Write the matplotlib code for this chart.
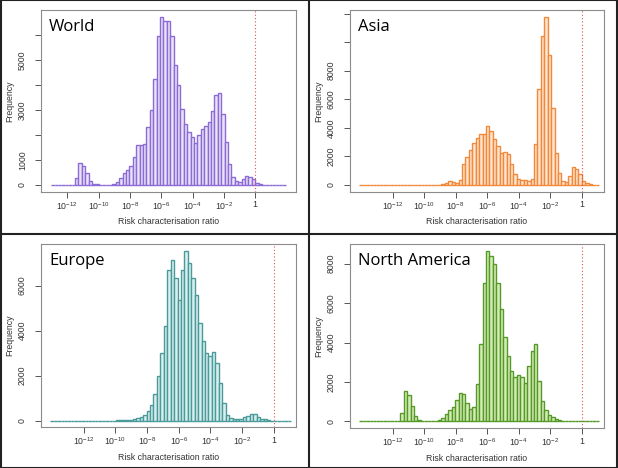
import numpy as np
import matplotlib
matplotlib.use("Agg")
import matplotlib.pyplot as plt
from matplotlib.lines import Line2D
from matplotlib.ticker import NullLocator

plt.rcParams["font.family"] = ["Liberation Sans", "DejaVu Sans"]
plt.rcParams["mathtext.fontset"] = "custom"
plt.rcParams["mathtext.rm"] = "Liberation Sans"
plt.rcParams["mathtext.it"] = "Liberation Sans:italic"

# histogram bins: width 0.5 in natural-log units
BIN_W = 0.5

world_start = -30.0
world_counts = [0] * 7 + [265, 890, 770, 465, 150, 55, 20] + [0] * 4 + [
    30, 130, 265, 464, 597, 756, 1127, 1590, 1590, 1650, 2320, 2983, 4243,
    5967, 6720, 6530, 6530, 5967, 4774, 3978, 3050, 2420, 2120, 1920, 1658,
    1990, 2254, 2370, 2500, 2957, 3580, 3680, 2824, 1724, 835, 332, 160, 133,
    225, 371, 332, 225, 93, 40] + [0] * 7

asia_start = -32.5
asia_counts = [0] * 24 + [
    40, 150, 280, 220, 120, 350, 1457, 1940, 2470, 2940, 3306, 3584, 3584,
    4115, 3769, 3190, 2760, 2266, 2300, 2170, 1457, 800, 450, 360, 347, 280,
    416, 2890, 6728, 10420, 11780, 9100, 5360, 2266, 832, 300, 185, 601, 1290,
    1150, 740, 254, 116, 60] + [0] * 2

europe_start = -32.5
europe_counts = [0] * 18 + [
    0, 3, 6, 10, 15, 25, 45, 90, 148, 266, 414, 681, 1184, 1968, 3004, 4188,
    6704, 7148, 6334, 5372, 6704, 7548, 7000, 6334, 5594, 4336, 3522, 3004,
    2856, 3049, 2560, 1672, 784, 266, 118, 45, 45, 89, 148, 207, 296, 296, 178,
    89, 45, 15] + [0] * 6

namerica_start = -32.5
namerica_counts = [0] * 12 + [424, 1525, 1356, 763, 254, 85, 30] + [0] * 3 + [
    30, 100, 186, 356, 568, 738, 1076, 1458, 1373, 958, 610, 746, 1898, 3950,
    7000, 8645, 8400, 8000, 7000, 5678, 4288, 3305, 2576, 2237, 2339, 2254,
    1949, 2797, 3593, 3932, 2068, 1051, 593, 339, 220, 119, 51, 15] + [0] * 10

x_ticks = [1e-12, 1e-10, 1e-8, 1e-6, 1e-4, 1e-2, 1]
x_tick_labels = [r"$10^{-12}$", r"$10^{-10}$", r"$10^{-8}$", r"$10^{-6}$",
                 r"$10^{-4}$", r"$10^{-2}$", "1"]

W, H = 618, 468
fig = plt.figure(figsize=(W / 100, H / 100), dpi=100)


def add_axes_px(x0, y0, x1, y1):
    return fig.add_axes([x0 / W, 1 - y1 / H, (x1 - x0) / W, (y1 - y0) / H])


def draw_panel(ax, title, start, counts, edge, face, xlim, yticks, ylabels):
    edges = np.exp(start + BIN_W * np.arange(len(counts) + 1))
    ax.bar(edges[:-1], counts, width=np.diff(edges), align="edge",
           color=face, edgecolor=edge, linewidth=1.0)
    ax.set_xscale("log")
    ax.set_xlim(10 ** xlim[0], 10 ** xlim[1])
    top = max(counts)
    ax.set_ylim(-0.04 * top, 1.04 * top)
    ax.axvline(1, color="#d9534f", lw=0.8, ls=(0, (1, 2)))

    ax.set_xticks(x_ticks)
    ax.set_xticklabels(x_tick_labels)
    ax.xaxis.set_minor_locator(NullLocator())
    ax.set_yticks(yticks)
    ax.set_yticklabels(ylabels, rotation=90, va="center")
    ax.tick_params(length=4, width=0.7, color="#555555", labelcolor="#333333",
                   labelsize=6.3)
    ax.tick_params(axis="x", pad=2)
    ax.tick_params(axis="y", pad=6)
    for sp in ax.spines.values():
        sp.set_color("#8c8c8c")
        sp.set_linewidth(0.8)

    ax.set_xlabel("Risk characterisation ratio", fontsize=6.3, color="#333333")
    ax.set_ylabel("Frequency", fontsize=6.3, color="#333333")
    ax.xaxis.set_label_coords(0.5, -0.14)
    ax.yaxis.set_label_coords(-0.105, 0.5)
    ax.text(0.033, 0.885, title, transform=ax.transAxes, family="Open Sans",
            fontsize=12, color="black", va="baseline", ha="left")


ax1 = add_axes_px(40.7, 10, 296, 191.7)
draw_panel(ax1, "World", world_start, world_counts, "#8c6bd6", "#e9e2f8",
           (-13.7, 2.6), range(0, 7000, 1000),
           ["0", "1000", "", "3000", "", "5000", ""])

ax2 = add_axes_px(349.7, 10, 604, 191.7)
draw_panel(ax2, "Asia", asia_start, asia_counts, "#f2893a", "#fde5cf",
           (-14.72, 1.4), range(0, 14000, 2000),
           ["0", "2000", "4000", "6000", "8000", "", ""])

ax3 = add_axes_px(40.7, 244, 296, 427.3)
draw_panel(ax3, "Europe", europe_start, europe_counts, "#4a9a9a", "#d8efef",
           (-14.72, 1.4), range(0, 8000, 2000),
           ["0", "2000", "4000", "6000"])

ax4 = add_axes_px(349.7, 244, 604, 428.3)
draw_panel(ax4, "North America", namerica_start, namerica_counts, "#559a28",
           "#d5ecb6", (-14.72, 1.4), range(0, 10000, 2000),
           ["0", "2000", "4000", "6000", "8000"])

# panel frame lines
frame = dict(color="#222222", lw=1.5, transform=fig.transFigure)
fig.add_artist(Line2D([308.5 / W, 308.5 / W], [0, 1], **frame))
fig.add_artist(Line2D([0, 1], [1 - 233.5 / H, 1 - 233.5 / H], **frame))
fig.add_artist(Line2D([0.001, 0.999, 0.999, 0.001, 0.001],
                      [0.001, 0.001, 0.999, 0.999, 0.001], **frame))

fig.savefig("out.png", dpi=100)
